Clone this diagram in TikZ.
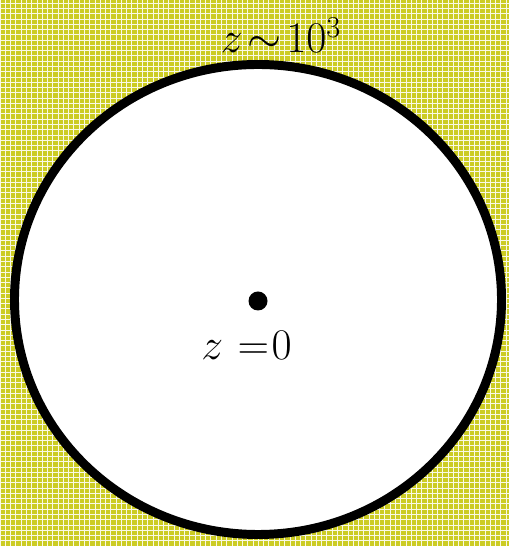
\documentclass[tikz,border=0pt]{standalone}
\usepackage{amsmath,amssymb}
\usetikzlibrary{patterns}
\definecolor{bgyellow}{RGB}{204,204,36}
\newcommand{\biglabel}{\fontsize{26}{30}\selectfont}
\newcommand{\toplabel}{\fontsize{23}{27}\selectfont}

\begin{document}
\begin{tikzpicture}[
  x=0.02cm, y=0.02cm,
  horizon/.style={draw=black, line width=5.1pt, fill=white},
  centre/.style={circle, fill=black, inner sep=0pt, minimum size=19*0.02cm}
]
  %% Background
  \fill[bgyellow] (0,0) rectangle (509,546);
  \fill[pattern=grid, pattern color=white!88!bgyellow] (0,0) rectangle (509,546);
  \useasboundingbox (0,0) rectangle (509,546);

  %% Horizon
  \coordinate (mid) at (258,246.5);
  \draw[horizon] (mid) ellipse [x radius=243.5, y radius=235];

  %% Observer
  \node[centre] (obs) at (258,245) {};
  \node[anchor=base, inner sep=0pt] (now) at (246.5,186) {\biglabel$z\mkern6mu{=}\mkern1mu0$};
  \node[anchor=base, inner sep=0pt] (far) at (281,493) {\toplabel$z\!\sim\!10^3$};
\end{tikzpicture}
\end{document}
